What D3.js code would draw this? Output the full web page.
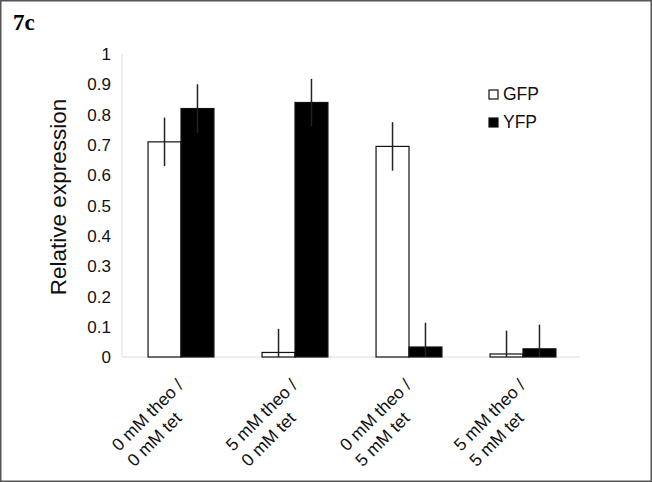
<!DOCTYPE html>
<html>
<head>
<meta charset="utf-8">
<script src="https://cdn.jsdelivr.net/npm/d3@7"></script>
<style>
  html, body { margin: 0; padding: 0; background: #fff; }
  svg { display: block; }
  .sans { font-family: Arial, "Liberation Sans", Helvetica, sans-serif; }
  .serif { font-family: "Times New Roman", "Liberation Serif", serif; }
</style>
</head>
<body>
<div id="chart"></div>
<script>
// conditions on the x axis, each split into two label lines
const conditions = ["0 mM theo / 0 mM tet", "5 mM theo / 0 mM tet", "0 mM theo / 5 mM tet", "5 mM theo / 5 mM tet"];
const labelLines = [
    ["0 mM theo /", "0 mM tet"],
    ["5 mM theo /", "0 mM tet"],
    ["0 mM theo /", "5 mM tet"],
    ["5 mM theo /", "5 mM tet"]
];
const seriesNames = ["GFP", "YFP"];
const gfpValues = [0.71, 0.015, 0.695, 0.01];
const yfpValues = [0.82, 0.84, 0.033, 0.027];
const gfpErrors = [0.08, 0.078, 0.08, 0.077];
const yfpErrors = [0.08, 0.078, 0.08, 0.08];
const yTicks = [0, 0.1, 0.2, 0.3, 0.4, 0.5, 0.6, 0.7, 0.8, 0.9, 1];

const width = 652, height = 482;

const svg = d3.select("#chart")
    .append("svg")
    .attr("width", width)
    .attr("height", height);

// outer frame
svg.append("rect")
    .attr("x", 0.75).attr("y", 0.75)
    .attr("width", width - 1.5).attr("height", height - 1.5)
    .attr("fill", "none")
    .attr("stroke", "#555")
    .attr("stroke-width", 1.5);

svg.append("text")
    .attr("class", "serif")
    .attr("x", 13).attr("y", 30)
    .attr("font-weight", "bold")
    .attr("font-size", 23)
    .text("7c");

// scales
const y = d3.scaleLinear().domain([0, 1]).range([357, 54]);
const x0 = d3.scaleBand().domain(conditions).range([124, 580]).padding(0);
const x1 = d3.scaleBand().domain(seriesNames).range([0, x0.bandwidth()])
    .paddingInner(0).paddingOuter(0.73);

const rows = conditions.map((c, i) => ({
    cond: c,
    bars: [
        {name: "GFP", value: gfpValues[i], err: gfpErrors[i]},
        {name: "YFP", value: yfpValues[i], err: yfpErrors[i]}
    ]
}));

const color = {GFP: "#fff", YFP: "#000"};

// faint axis lines
svg.append("line")
    .attr("x1", 122).attr("x2", 122)
    .attr("y1", y(1)).attr("y2", y(0))
    .attr("stroke", "#e8e8e8").attr("stroke-width", 1.5);
svg.append("line")
    .attr("x1", 122).attr("x2", 580)
    .attr("y1", y(0)).attr("y2", y(0))
    .attr("stroke", "#e8e8e8").attr("stroke-width", 1.5);

// y tick labels
svg.selectAll(".ytick")
    .data(yTicks)
    .enter()
    .append("text")
    .attr("class", "ytick sans")
    .attr("x", 111)
    .attr("y", d => y(d))
    .attr("dy", "0.36em")
    .attr("text-anchor", "end")
    .attr("font-size", 17)
    .attr("fill", "#111")
    .text(d => d3.format("")(d));

// y axis title
svg.append("text")
    .attr("class", "sans")
    .attr("transform", "translate(66,197) rotate(-90)")
    .attr("text-anchor", "middle")
    .attr("font-size", 22.5)
    .attr("fill", "#111")
    .text("Relative expression");

// bars
const groups = svg.selectAll(".group")
    .data(rows)
    .enter()
    .append("g")
    .attr("class", "group")
    .attr("transform", d => `translate(${x0(d.cond)},0)`);

groups.selectAll(".bar")
    .data(d => d.bars)
    .enter()
    .append("rect")
    .attr("class", "bar")
    .attr("x", d => x1(d.name))
    .attr("y", d => y(d.value))
    .attr("width", x1.bandwidth())
    .attr("height", d => y(0) - y(d.value))
    .attr("fill", d => color[d.name])
    .attr("stroke", "#111")
    .attr("stroke-width", 1.2);

// error bars
groups.selectAll(".err")
    .data(d => d.bars)
    .enter()
    .append("line")
    .attr("class", "err")
    .attr("x1", d => x1(d.name) + x1.bandwidth() / 2)
    .attr("x2", d => x1(d.name) + x1.bandwidth() / 2)
    .attr("y1", d => y(Math.max(0, d.value - d.err)))
    .attr("y2", d => y(d.value + d.err))
    .attr("stroke", "#222")
    .attr("stroke-width", 1.5);

// x labels, rotated, lines start-aligned
const xlab = svg.selectAll(".xlab")
    .data(conditions)
    .enter()
    .append("text")
    .attr("class", "xlab sans")
    .attr("transform", d => `translate(${x0(d) + x0.bandwidth() / 2 - 62},${y(0) + 95}) rotate(-45)`)
    .attr("text-anchor", "start")
    .attr("font-size", 17.5)
    .attr("fill", "#111");

xlab.selectAll("tspan")
    .data((d, i) => labelLines[i])
    .enter()
    .append("tspan")
    .attr("x", 0)
    .attr("dy", (d, i) => i === 0 ? 0 : 22)
    .text(d => d);

// legend
const legend = svg.append("g").attr("transform", "translate(489,90)");
seriesNames.forEach((s, i) => {
    legend.append("rect")
        .attr("x", 0).attr("y", i * 28)
        .attr("width", 9).attr("height", 9)
        .attr("fill", color[s])
        .attr("stroke", "#111")
        .attr("stroke-width", 1.2);
    legend.append("text")
        .attr("class", "sans")
        .attr("x", 14).attr("y", i * 28 + 10)
        .attr("font-size", 17.5)
        .attr("fill", "#111")
        .text(s);
});
</script>
</body>
</html>
